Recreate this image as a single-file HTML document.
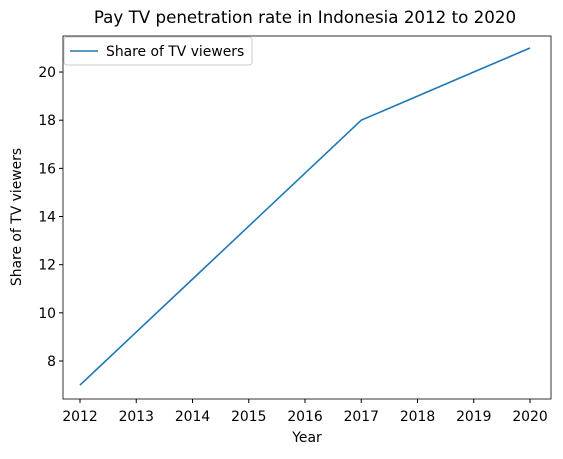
<!DOCTYPE html>
<html><head><meta charset="utf-8"><style>
body{margin:0;background:#fff;font-family:"DejaVu Sans","Liberation Sans",sans-serif;}
</style></head><body>
<svg id="chart" width="563" height="455" xmlns="http://www.w3.org/2000/svg">
<text x="305" y="23" text-anchor="middle" font-size="16.7">Pay TV penetration rate in Indonesia 2012 to 2020</text>
<rect x="63" y="36" width="488" height="363" fill="none" stroke="#000" stroke-width="0.8"/>
<g id="xt"></g><g id="yt"></g>
<text x="307" y="442" text-anchor="middle" font-size="13.9">Year</text>
<text transform="translate(21,217) rotate(-90)" text-anchor="middle" font-size="13.9">Share of TV viewers</text>
<polyline id="line" fill="none" stroke="#1f77b4" stroke-width="1.6"/>
<g>
<rect x="64" y="37" width="188" height="28" rx="3" fill="#fff" stroke="#ccc"/>
<line x1="70" y1="51" x2="98" y2="51" stroke="#1f77b4" stroke-width="1.6"/>
<text x="106" y="56" font-size="13.9">Share of TV viewers</text>
</g>
</svg>
<script>
const years=[2012,2013,2014,2015,2016,2017,2018,2019,2020];
const values=[7,9.2,11.4,13.6,15.8,18,19,20,21];
const yTicks=[8,10,12,14,16,18,20];
const sx=v=>80+(v-2012)*56.25;
const sy=v=>361-(v-8)*24.08;
const ns="http://www.w3.org/2000/svg";
const xt=document.getElementById('xt'),yt=document.getElementById('yt');
years.forEach(y=>{
 const l=document.createElementNS(ns,'line');
 l.setAttribute('x1',sx(y));l.setAttribute('x2',sx(y));l.setAttribute('y1',399);l.setAttribute('y2',403);l.setAttribute('stroke','#000');
 
 
 xt.appendChild(l);
 const t=document.createElementNS(ns,'text');
 t.setAttribute('x',sx(y));t.setAttribute('y',421);t.setAttribute('text-anchor','middle');t.setAttribute('font-size','13.9');t.textContent=y;
 
 
 xt.appendChild(t);
});
yTicks.forEach(v=>{
 const l=document.createElementNS(ns,'line');
 l.setAttribute('x1',59);l.setAttribute('x2',63);l.setAttribute('y1',sy(v));l.setAttribute('y2',sy(v));l.setAttribute('stroke','#000');
 
 
 yt.appendChild(l);
 const t=document.createElementNS(ns,'text');
 t.setAttribute('x',56);t.setAttribute('y',sy(v)+5);t.setAttribute('text-anchor','end');t.setAttribute('font-size','13.9');t.textContent=v;
 
 
 yt.appendChild(t);
});
document.getElementById('line').setAttribute('points',years.map((y,i)=>sx(y)+','+sy(values[i])).join(' '));
</script>
</body></html>
